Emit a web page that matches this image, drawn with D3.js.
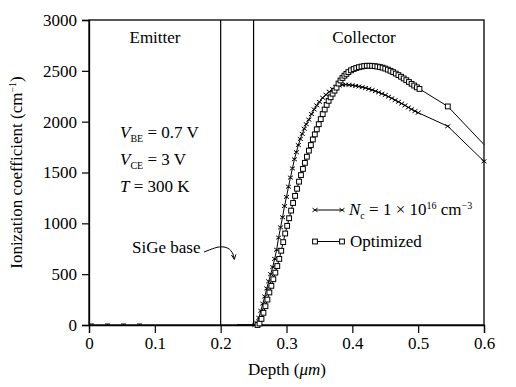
<!DOCTYPE html>
<html>
<head>
<meta charset="utf-8">
<script src="https://cdn.jsdelivr.net/npm/d3@7"></script>
<style>
  body { margin: 0; background: #fff; }
  svg text { font-family: "Liberation Serif", "Times New Roman", serif; fill: #000; }
</style>
</head>
<body>
<div id="chart"></div>
<script>
var xTicks = [0, 0.1, 0.2, 0.3, 0.4, 0.5, 0.6];
var yTicks = [0, 500, 1000, 1500, 2000, 2500, 3000];
var regionBounds = [0.2, 0.25];

var depthNc = [0.225, 0.25, 0.252, 0.255, 0.258, 0.261, 0.264, 0.267, 0.270, 0.273, 0.276, 0.279,
  0.282, 0.285, 0.288, 0.291, 0.294, 0.297, 0.300, 0.303, 0.306, 0.309, 0.312, 0.315,
  0.318, 0.321, 0.324, 0.327, 0.330, 0.334, 0.338, 0.342, 0.346, 0.350, 0.355, 0.360,
  0.365, 0.370, 0.375, 0.380, 0.385, 0.390, 0.395, 0.400, 0.405, 0.410, 0.415, 0.420,
  0.425, 0.430, 0.435, 0.440, 0.445, 0.450, 0.455, 0.460, 0.465, 0.470, 0.475, 0.480,
  0.485, 0.490, 0.495, 0.500, 0.545, 0.600];
var alphaNc = [0, 0, 0, 20, 70, 140, 210, 280, 360, 430, 500, 570,
  650, 740, 860, 960, 1060, 1170, 1260, 1360, 1450, 1540, 1630, 1700,
  1770, 1830, 1880, 1930, 1975, 2020, 2075, 2120, 2160, 2195, 2235, 2265,
  2295, 2320, 2340, 2355, 2362, 2365, 2362, 2358, 2352, 2346, 2340, 2332,
  2322, 2312, 2300, 2288, 2275, 2262, 2246, 2230, 2212, 2195, 2178, 2160,
  2140, 2122, 2104, 2088, 1955, 1610];

var depthOpt = [0.225, 0.25, 0.256, 0.259, 0.262, 0.265, 0.268, 0.271, 0.274, 0.277, 0.280, 0.283,
  0.286, 0.289, 0.292, 0.295, 0.298, 0.301, 0.304, 0.307, 0.310, 0.313, 0.316, 0.319,
  0.322, 0.325, 0.328, 0.331, 0.334, 0.337, 0.340, 0.343, 0.346, 0.349, 0.352, 0.355,
  0.358, 0.361, 0.364, 0.367, 0.370, 0.373, 0.376, 0.379, 0.382, 0.385, 0.388, 0.391,
  0.394, 0.398, 0.402, 0.406, 0.410, 0.414, 0.418, 0.422, 0.426, 0.430, 0.434, 0.438,
  0.442, 0.446, 0.450, 0.454, 0.458, 0.462, 0.466, 0.470, 0.474, 0.478, 0.482, 0.486,
  0.490, 0.494, 0.498, 0.502, 0.545, 0.600];
var alphaOpt = [0, 0, 0, 15, 60, 120, 185, 250, 320, 385, 450, 515,
  580, 650, 730, 815, 900, 975, 1050, 1125, 1200, 1270, 1340, 1410,
  1475, 1535, 1595, 1655, 1715, 1770, 1825, 1875, 1925, 1975, 2025, 2075,
  2120, 2165, 2205, 2240, 2275, 2305, 2335, 2375, 2405, 2430, 2452, 2470,
  2488, 2505, 2518, 2528, 2536, 2542, 2547, 2550, 2550, 2549, 2546, 2542,
  2537, 2531, 2522, 2512, 2500, 2487, 2473, 2458, 2442, 2425, 2408, 2390,
  2372, 2355, 2338, 2322, 2150, 1775];

// dashed stretch of zero field in the emitter
var zeroDepth = [0, 0.095];
var zeroAlpha = [0, 0];

var margin = {left: 89, right: 32, top: 20, bottom: 62};
var W = 516, H = 387;

var svg = d3.select("#chart").append("svg")
  .attr("width", W)
  .attr("height", H);

var x = d3.scaleLinear().domain([0, 0.6]).range([margin.left, W - margin.right]);
var y = d3.scaleLinear().domain([0, 3000]).range([H - margin.bottom, margin.top]);

function pts(xs, ys) {
  return xs.map(function(d, i){ return [d, ys[i]]; });
}

var line = d3.line()
  .x(function(d){ return x(d[0]); })
  .y(function(d){ return y(d[1]); });

// frame
svg.append("rect")
  .attr("x", x(0)).attr("y", y(3000))
  .attr("width", x(0.6) - x(0)).attr("height", y(0) - y(3000))
  .attr("fill", "none").attr("stroke", "#000").attr("stroke-width", 1.3);

svg.selectAll(".bound")
  .data(regionBounds)
  .enter().append("line")
  .attr("x1", function(d){ return x(d); })
  .attr("x2", function(d){ return x(d); })
  .attr("y1", y(3000)).attr("y2", y(0))
  .attr("stroke", "#000").attr("stroke-width", 1.2);

// axes
var xAxis = svg.append("g")
  .attr("transform", "translate(0," + y(0) + ")")
  .call(d3.axisBottom(x).tickValues(xTicks).tickSize(8).tickPadding(4)
    .tickFormat(function(d){ return d === 0 ? "0" : d3.format(".1f")(d); }));
var yAxis = svg.append("g")
  .attr("transform", "translate(" + x(0) + ",0)")
  .call(d3.axisLeft(y).tickValues(yTicks).tickSize(7).tickPadding(5).tickFormat(d3.format("d")));

[xAxis, yAxis].forEach(function(g){
  g.select(".domain").attr("stroke", "#000").attr("stroke-width", 1.3);
  g.selectAll(".tick line").attr("stroke", "#000").attr("stroke-width", 1.2);
  g.selectAll(".tick text").attr("font-size", 17)
    .attr("font-family", "Liberation Serif, Times New Roman, serif").attr("fill", "#000");
});

// curves
svg.append("path")
  .attr("d", line(pts(zeroDepth, zeroAlpha)))
  .attr("transform", "translate(0,-1)")
  .attr("fill", "none").attr("stroke", "#000").attr("stroke-width", 1.2)
  .attr("stroke-dasharray", "5,11");

var series = [
  {name: "nc", data: pts(depthNc, alphaNc)},
  {name: "opt", data: pts(depthOpt, alphaOpt)}
];

series.forEach(function(s){
  svg.append("path")
    .attr("d", line(s.data))
    .attr("fill", "none").attr("stroke", "#000").attr("stroke-width", 1);
});

function crossMark(g, cx, cy) {
  g.append("path")
    .attr("d", "M" + (cx - 2.5) + "," + (cy - 1.8) + "L" + (cx + 2.5) + "," + (cy + 1.8) +
      "M" + (cx - 2.5) + "," + (cy + 1.8) + "L" + (cx + 2.5) + "," + (cy - 1.8))
    .attr("stroke", "#000").attr("stroke-width", 1).attr("fill", "none");
}
function squareMark(g, cx, cy) {
  g.append("rect")
    .attr("x", cx - 2.4).attr("y", cy - 2.4)
    .attr("width", 4.8).attr("height", 4.8)
    .attr("fill", "#fff").attr("stroke", "#000").attr("stroke-width", 1);
}

var mk = svg.append("g");
series[0].data.filter(function(d){ return d[0] > 0.25; }).forEach(function(d){
  crossMark(mk, x(d[0]), y(d[1]));
});
series[1].data.filter(function(d){ return d[0] > 0.25 && d[0] < 0.6; }).forEach(function(d){
  squareMark(mk, x(d[0]), y(d[1]));
});

// region labels
svg.append("text").attr("x", 155).attr("y", 43).attr("text-anchor", "middle")
  .attr("font-size", 17).text("Emitter");
svg.append("text").attr("x", 364).attr("y", 43).attr("text-anchor", "middle")
  .attr("font-size", 17).text("Collector");

// bias conditions
function condition(yy, sym, sub, rest) {
  var t = svg.append("text").attr("x", 120).attr("y", yy).attr("font-size", 17);
  t.append("tspan").attr("font-style", "italic").text(sym);
  if (sub) {
    t.append("tspan").attr("font-size", 10).attr("dy", 4).text(sub);
    t.append("tspan").attr("dy", -4).text(rest);
  } else {
    t.append("tspan").text(rest);
  }
}
condition(138, "V", "BE", " = 0.7 V");
condition(165, "V", "CE", " = 3 V");
condition(192, "T", null, " = 300 K");

svg.append("text").attr("x", 132).attr("y", 253).attr("font-size", 17).text("SiGe base");
svg.append("path")
  .attr("d", "M204,252 C212,249 218,246 224,247 C230,248 233,252 234,258")
  .attr("fill", "none").attr("stroke", "#000").attr("stroke-width", 1);
svg.append("path")
  .attr("d", "M231.5,255 L234.3,259.5 L235.8,254.5")
  .attr("fill", "none").attr("stroke", "#000").attr("stroke-width", 1);

// legend
var lg = svg.append("g");
lg.append("line").attr("x1", 315).attr("x2", 342).attr("y1", 210).attr("y2", 210)
  .attr("stroke", "#000").attr("stroke-width", 1);
crossMark(lg, 315, 210);
crossMark(lg, 342, 210);
var t1 = lg.append("text").attr("x", 349).attr("y", 215).attr("font-size", 17);
t1.append("tspan").attr("font-style", "italic").text("N");
t1.append("tspan").attr("font-size", 10).attr("dy", 4).text("c");
t1.append("tspan").attr("dy", -4).text(" = 1 \u00d7 10");
t1.append("tspan").attr("font-size", 10).attr("dy", -6).text("16");
t1.append("tspan").attr("dy", 6).text(" cm");
t1.append("tspan").attr("font-size", 10).attr("dy", -6).text("\u22123");

lg.append("line").attr("x1", 315).attr("x2", 342).attr("y1", 241.5).attr("y2", 241.5)
  .attr("stroke", "#000").attr("stroke-width", 1);
squareMark(lg, 315, 241.5);
squareMark(lg, 342, 241.5);
lg.append("text").attr("x", 350).attr("y", 247).attr("font-size", 17).text("Optimized");

// axis titles
var xt = svg.append("text").attr("x", 287).attr("y", 375).attr("text-anchor", "middle")
  .attr("font-size", 17);
xt.append("tspan").text("Depth (");
xt.append("tspan").attr("font-style", "italic").text("\u03bcm");
xt.append("tspan").text(")");

var yt = svg.append("text")
  .attr("transform", "translate(22," + ((y(0) + y(3000)) / 2) + ") rotate(-90)")
  .attr("text-anchor", "middle").attr("font-size", 17);
yt.append("tspan").text("Ionization coefficient (cm");
yt.append("tspan").attr("font-size", 10).attr("dy", -6).text("\u22121");
yt.append("tspan").attr("dy", 6).text(")");
</script>
</body>
</html>
